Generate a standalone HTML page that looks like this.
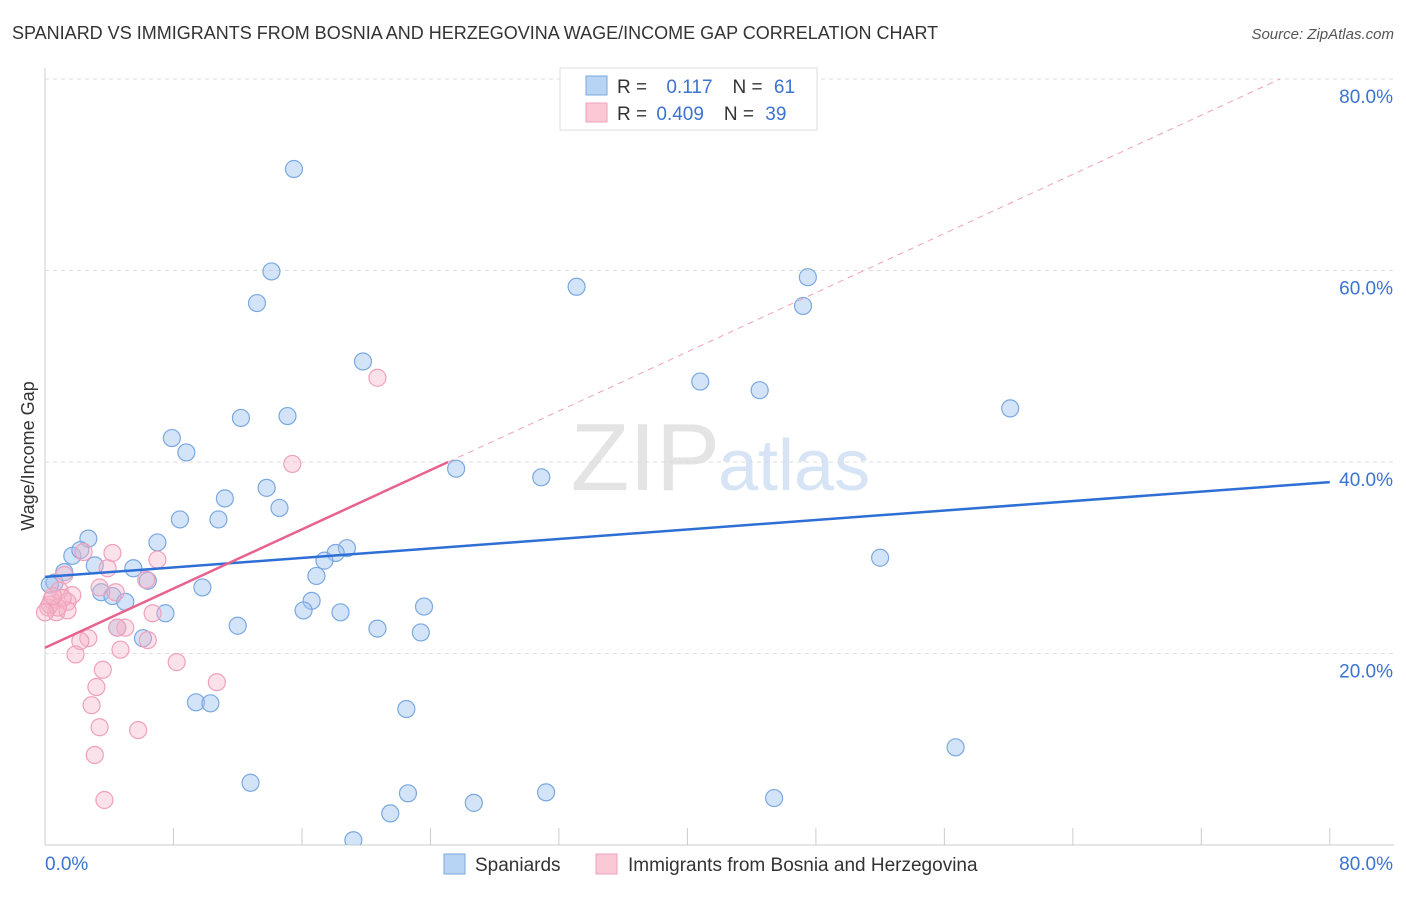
<!DOCTYPE html>
<html><head><meta charset="utf-8"><style>
body{margin:0;background:#fff;font-family:"Liberation Sans",sans-serif;}
svg text{font-family:"Liberation Sans",sans-serif;}
</style></head><body>
<svg id="c" width="1406" height="892" xmlns="http://www.w3.org/2000/svg">
<text x="12" y="39" font-size="18" fill="#333">SPANIARD VS IMMIGRANTS FROM BOSNIA AND HERZEGOVINA WAGE/INCOME GAP CORRELATION CHART</text>
<text x="1394" y="39" font-size="15" fill="#555" text-anchor="end" font-style="italic">Source: ZipAtlas.com</text>
<text x="720" y="490" font-size="96" fill="#e4e4e4" text-anchor="end" font-family="Liberation Serif">ZIP</text>
<text x="718" y="490" font-size="72" fill="#d6e4f5">atlas</text>
<text transform="translate(34,456) rotate(-90)" font-size="18" fill="#333" text-anchor="middle">Wage/Income Gap</text>
<g id="grid"></g><g id="pts"></g><g id="trend"></g>
<g>
<rect x="560" y="68" width="257" height="62" fill="#fff" stroke="#ddd"/>
<rect x="586" y="76" width="21" height="19" fill="#b8d4f5" stroke="#7aa8e0"/>
<rect x="586" y="103" width="21" height="19" fill="#fbc8d6" stroke="#f0a0bb"/>
<text x="617" y="93" font-size="19" fill="#333">R = <tspan fill="#3b73d0" dx="14">0.117</tspan><tspan fill="#333" dx="20">N = </tspan><tspan fill="#3b73d0" dx="6">61</tspan></text>
<text x="617" y="120" font-size="19" fill="#333">R = <tspan fill="#3b73d0" dx="4">0.409</tspan><tspan fill="#333" dx="20">N = </tspan><tspan fill="#3b73d0" dx="6">39</tspan></text>
</g>
<g>
<rect x="444" y="854" width="21" height="20" fill="#b8d4f5" stroke="#7aa8e0"/>
<text x="475" y="871" font-size="19" fill="#333">Spaniards</text>
<rect x="596" y="854" width="21" height="20" fill="#fbc8d6" stroke="#f0a0bb"/>
<text x="628" y="871" font-size="19" fill="#333">Immigrants from Bosnia and Herzegovina</text>
</g>
</svg>
<script>
const xTicks=[0,8,16,24,32,40,48,56,64,72,80];
const yTicks=[20,40,60,80];
const blueX=[15.5,14.1,13.2,33.1,47.5,47.2,19.8,40.8,44.5,60.1,12.2,15.1,7.9,8.8,25.6,30.9,13.8,11.2,14.6,8.4,10.8,2.7,7.0,1.7,2.2,18.8,18.1,17.4,52.0,5.5,3.1,1.2,16.9,6.4,0.6,9.8,3.5,4.2,5.0,16.6,23.6,16.1,18.4,7.5,12.0,20.7,23.4,4.5,6.1,9.4,10.3,22.5,56.7,12.8,22.6,31.2,26.7,45.4,21.5,19.2,0.3];
const blueY=[70.6,59.9,56.6,58.3,59.3,56.3,50.5,48.4,47.5,45.6,44.6,44.8,42.5,41.0,39.3,38.4,37.3,36.2,35.2,34.0,34.0,32.0,31.6,30.2,30.8,31.0,30.5,29.7,30.0,28.9,29.2,28.5,28.1,27.6,27.4,26.9,26.4,26.0,25.4,25.5,24.9,24.5,24.3,24.2,22.9,22.6,22.2,22.7,21.6,14.9,14.8,14.2,10.2,6.5,5.4,5.5,4.4,4.9,3.3,0.5,27.2];
const pinkX=[20.7,15.4,2.4,4.2,7.0,1.2,3.9,6.3,3.4,4.4,0.9,1.7,0.4,1.4,0.2,0.7,1.4,6.7,5.0,4.5,2.7,2.2,6.4,4.7,1.9,8.2,3.6,10.7,3.2,2.9,3.4,5.8,3.1,3.7,0.3,1.1,0.8,0.0,0.5];
const pinkY=[48.8,39.8,30.6,30.5,29.8,28.2,28.9,27.7,26.9,26.4,26.6,26.1,25.6,25.4,24.8,24.3,24.5,24.2,22.7,22.7,21.6,21.3,21.4,20.4,19.9,19.1,18.3,17.0,16.5,14.6,12.3,12.0,9.4,4.7,25.1,25.8,24.8,24.3,26.0];
const blueTrend=[[0,28.0],[80,37.9]];
const pinkTrend=[[0,20.6],[25.1,40.0]];
const pinkDash=[[25.1,40.0],[76.9,80.0]];
const X=v=>45+v*16.06, Y=v=>845-v*9.575;
const NS="http://www.w3.org/2000/svg";
function mk(t,a,p){const e=document.createElementNS(NS,t);for(const k in a)e.setAttribute(k,a[k]);p.appendChild(e);return e;}
const grid=document.getElementById('grid');
mk('line',{x1:45,y1:68,x2:45,y2:845,stroke:'#ccc'},grid);
mk('line',{x1:45,y1:845,x2:1394,y2:845,stroke:'#ccc'},grid);
yTicks.forEach(t=>{
 const l=mk('line',{x1:45,y1:Y(t),x2:1394,y2:Y(t),stroke:'#ddd','stroke-dasharray':'4,4'},grid);
 
 
 const tx=mk('text',{x:1393,y:Y(t)+24,'font-size':19,fill:'#3b73d0','text-anchor':'end'},grid);
 tx.textContent=t.toFixed(1)+'%';
 
 
});
xTicks.forEach(t=>{
 const l=mk('line',{x1:X(t),y1:828,x2:X(t),y2:845,stroke:'#ccc'},grid);
 
 
});
[[0,'start',45],[80,'end',1393]].forEach(([v,a,x])=>{
 const tx=mk('text',{x:x,y:870,'font-size':19,fill:'#3b73d0','text-anchor':a},grid);
 tx.textContent=v.toFixed(1)+'%';
 
 
});
const pts=document.getElementById('pts');
mk('clipPath',{id:'cl'},pts).appendChild(document.createElementNS(NS,'rect'));
pts.querySelector('rect').setAttribute('x',0);pts.querySelector('rect').setAttribute('y',0);
pts.querySelector('rect').setAttribute('width',1406);pts.querySelector('rect').setAttribute('height',845);
pts.setAttribute('clip-path','url(#cl)');
blueX.forEach((x,i)=>{
 const c=mk('circle',{cx:X(x),cy:Y(blueY[i]),r:8.5,fill:'rgba(160,196,240,0.45)',stroke:'#7aa8e0','stroke-width':1.2},pts);
 
 
});
pinkX.forEach((x,i)=>{
 const c=mk('circle',{cx:X(x),cy:Y(pinkY[i]),r:8.5,fill:'rgba(245,180,200,0.4)',stroke:'#f0a0bb','stroke-width':1.2},pts);
 
 
});
const tr=document.getElementById('trend');
let l=mk('line',{x1:X(blueTrend[0][0]),y1:Y(blueTrend[0][1]),x2:X(blueTrend[1][0]),y2:Y(blueTrend[1][1]),stroke:'#2e6fd6','stroke-width':2.5},tr);


l=mk('line',{x1:X(pinkTrend[0][0]),y1:Y(pinkTrend[0][1]),x2:X(pinkTrend[1][0]),y2:Y(pinkTrend[1][1]),stroke:'#e8628e','stroke-width':2.5},tr);


l=mk('line',{x1:X(pinkDash[0][0]),y1:Y(pinkDash[0][1]),x2:X(pinkDash[1][0]),y2:Y(pinkDash[1][1]),stroke:'#f0a0bb','stroke-width':1,'stroke-dasharray':'6,5'},tr);


</script>
</body></html>
